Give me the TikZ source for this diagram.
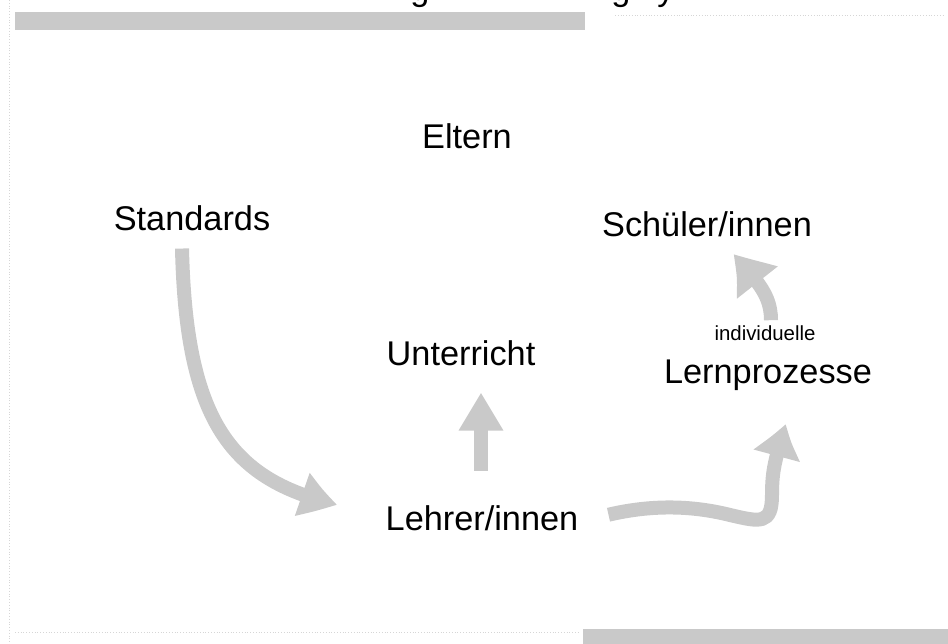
\documentclass[tikz,border=0pt]{standalone}
\usepackage{fontspec}
\setmainfont{Liberation Sans}
\usetikzlibrary{arrows.meta,bending}

\definecolor{screen}{gray}{0.79}
\definecolor{faint}{gray}{0.84}

\tikzset{
  label/.style={inner sep=0pt, anchor=base, font=\fontsize{34.3}{40}\selectfont},
  small/.style={inner sep=0pt, anchor=base, font=\fontsize{20.4}{24}\selectfont},
  flow/.style={draw=screen, line width=14pt,
    -{Triangle[width=42pt,length=38pt,bend]}},
  bigflow/.style={flow, -{Triangle[width=46pt,length=42pt,bend]}},
}

\begin{document}
\begin{tikzpicture}[x=1pt,y=-1pt]
  \useasboundingbox (0,0) rectangle (948,644);
  \clip (0,0) rectangle (948,644);

  % page furniture: cut-off heading, tinted bands, dotted rules
  \node[label] (t1) at (420,1) {g};
  \node[label] (t2) at (621,1) {g};
  \node[label] (t3) at (666,1) {y};
  \fill[screen] (15,12) rectangle (585,30);
  \fill[screen] (583,629) rectangle (948,644);
  \draw[faint, dotted, line width=0.8pt] (615,15) -- (945,15);
  \draw[faint, dotted, line width=0.8pt] (15,632) -- (580,632);
  \draw[faint, dotted, line width=0.8pt] (9,0) -- (9,644);

  % labels
  \node[label] (eltern)   at (467,149) {Eltern};
  \node[label] (std)      at (192,231) {Standards};
  \node[label] (schueler) at (707,237) {Schüler/innen};
  \node[label] (unt)      at (461,366) {Unterricht};
  \node[small] (indiv)    at (765,341) {individuelle};
  \node[label] (lern)     at (768,384) {Lernprozesse};
  \node[label] (lehrer)   at (482,530) {Lehrer/innen};

  % arrows (shifts are in picture units: positive y points down)
  \draw[flow] ([shift={(-10,17)}]std.south)
      .. controls (186,420) and (230,480) .. ([shift={(-48,-13)}]lehrer.west);
  \draw[flow] ([shift={(-1,-34)}]lehrer.north)
      -- ([shift={(20,26)}]unt.south);
  \draw[flow] ([shift={(30,-3)}]lehrer.east)
      .. controls (650,505) and (690,505) .. (730,515)
      .. controls (760,522) and (772,525) .. (772,495)
      .. controls (772,470) and (775,460) .. ([shift={(18,32)}]lern.south);
  \draw[bigflow] ([shift={(3,-40)}]lern.north)
      .. controls (771,295) and (758,282) .. ([shift={(26,16)}]schueler.south);
\end{tikzpicture}
\end{document}
